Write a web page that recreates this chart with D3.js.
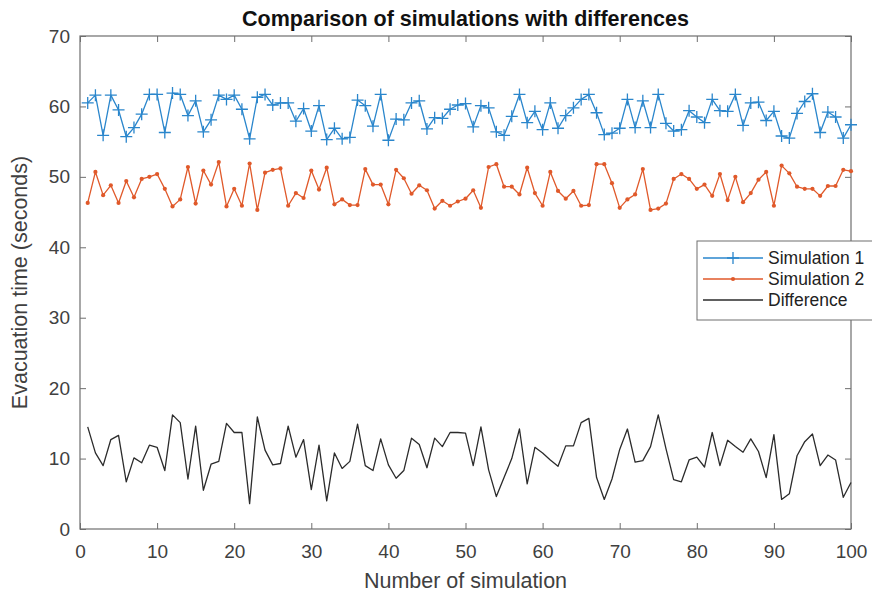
<!DOCTYPE html>
<html><head><meta charset="utf-8">
<script src="https://cdn.jsdelivr.net/npm/d3@7"></script>
<style>body{margin:0;background:#fff}svg{display:block}</style>
</head><body><svg id="c" width="872" height="594"></svg>
<script>
const simIndex = d3.range(1, 101);
const simulation1 = [60.5,61.6,55.9,61.6,59.5,55.7,57.0,58.9,61.7,61.7,56.3,61.9,61.7,58.7,60.8,56.4,58.1,61.6,61.0,61.6,
59.6,55.4,61.3,61.7,60.2,60.5,60.5,57.9,59.7,56.5,60.1,55.3,56.9,55.4,55.6,60.9,60.1,57.2,61.7,55.2,
58.2,58.1,60.5,60.8,56.8,58.4,58.3,59.6,60.2,60.4,57.1,60.1,59.8,56.4,55.9,58.6,61.7,57.7,59.3,56.7,
60.5,56.9,58.7,59.8,61.0,61.7,59.1,56.0,56.2,56.9,61.0,57.0,60.8,57.0,61.7,57.6,56.5,56.7,59.4,58.5,
57.7,61.0,59.4,59.3,61.7,57.3,60.5,60.6,58.0,59.3,55.8,55.5,59.0,60.7,61.8,56.3,59.2,58.5,55.5,57.4];
const simulation2 = [46.3,50.7,47.4,48.8,46.3,49.4,47.1,49.7,50.0,50.4,48.3,45.8,46.8,51.4,46.2,50.9,48.9,52.1,45.8,48.3,
45.9,51.9,45.3,50.6,51.0,51.2,45.9,47.7,47.0,50.9,48.2,51.3,46.1,46.8,46.0,46.0,51.1,48.9,48.9,46.1,
51.0,49.8,47.6,48.8,48.1,45.5,46.6,45.9,46.5,46.9,48.1,45.6,51.4,51.8,48.6,48.6,47.5,51.3,47.7,45.9,
50.7,48.0,46.9,48.0,45.9,46.0,51.8,51.8,49.1,45.6,46.8,47.5,51.1,45.3,45.5,46.2,49.7,50.4,49.7,48.3,
48.9,47.3,50.4,46.7,50.0,46.4,47.7,49.6,50.7,45.9,51.6,50.5,48.6,48.3,48.3,47.3,48.7,48.7,51.0,50.8];
const difference = [14.5,10.8,9.0,12.7,13.3,6.7,10.1,9.4,11.9,11.6,8.3,16.2,15.1,7.1,14.6,5.5,9.2,9.6,15.0,13.7,
13.7,3.6,15.9,11.2,9.1,9.3,14.6,10.2,12.7,5.6,11.9,4.0,10.8,8.6,9.6,14.9,9.0,8.3,12.8,9.1,
7.2,8.3,12.9,12.0,8.7,12.9,11.7,13.7,13.7,13.6,9.0,14.5,8.4,4.6,7.3,10.0,14.2,6.4,11.6,10.8,
9.8,8.9,11.8,11.8,15.1,15.7,7.3,4.2,7.1,11.3,14.2,9.5,9.7,11.7,16.2,11.4,7.0,6.7,9.8,10.2,
8.8,13.7,9.0,12.6,11.7,10.9,12.8,11.0,7.3,13.4,4.2,5.0,10.4,12.4,13.5,9.0,10.5,9.8,4.5,6.6];
const xTicks = [0,10,20,30,40,50,60,70,80,90,100];
const yTicks = [0,10,20,30,40,50,60,70];
const seriesNames = ["Simulation 1","Simulation 2","Difference"];
const seriesColors = ["#2a86cc","#e0592a","#2b2b2b"];

const svg = d3.select("#c");
const L=80, R=851, T=36, B=529;
const x = d3.scaleLinear().domain([0,100]).range([L,R]);
const y = d3.scaleLinear().domain([0,70]).range([B,T]);
const axisColor = "#6e6e6e", textColor = "#404040";
const font = "'Liberation Sans', Arial, sans-serif";

function styleAxis(g){
  g.select(".domain").remove();
  g.selectAll("line").attr("stroke",axisColor).attr("stroke-width",1);
  g.selectAll("text").attr("fill",textColor).style("font-family",font).style("font-size","19px");
}
svg.append("g").attr("transform",`translate(0,${B})`)
  .call(d3.axisBottom(x).tickValues(xTicks).tickSizeInner(-6).tickSizeOuter(0).tickPadding(16))
  .call(styleAxis);
svg.append("g").attr("transform",`translate(0,${T})`)
  .call(d3.axisTop(x).tickValues(xTicks).tickSizeInner(-6).tickSizeOuter(0).tickFormat(""))
  .call(styleAxis);
svg.append("g").attr("transform",`translate(${L},0)`)
  .call(d3.axisLeft(y).tickValues(yTicks).tickSizeInner(-6).tickSizeOuter(0).tickPadding(10))
  .call(styleAxis);
svg.append("g").attr("transform",`translate(${R},0)`)
  .call(d3.axisRight(y).tickValues(yTicks).tickSizeInner(-6).tickSizeOuter(0).tickFormat(""))
  .call(styleAxis);
svg.append("rect").attr("x",L).attr("y",T).attr("width",R-L).attr("height",B-T)
  .attr("fill","none").attr("stroke",axisColor).attr("stroke-width",1.2);

const line = d3.line().x((d,i)=>x(simIndex[i])).y(d=>y(d));
const data = [simulation1, simulation2, difference];
data.forEach((s,k)=>{
  svg.append("path").datum(s).attr("d",line).attr("fill","none")
    .attr("stroke",seriesColors[k]).attr("stroke-width",1.3).attr("stroke-linejoin","round");
});
const ms = 6;
svg.append("g").selectAll("path").data(simulation1).join("path")
  .attr("d",(d,i)=>`M${x(simIndex[i])-ms},${y(d)}h${2*ms}M${x(simIndex[i])},${y(d)-ms}v${2*ms}`)
  .attr("stroke",seriesColors[0]).attr("stroke-width",1.3);
svg.append("g").selectAll("circle").data(simulation2).join("circle")
  .attr("cx",(d,i)=>x(simIndex[i])).attr("cy",d=>y(d)).attr("r",2.1).attr("fill",seriesColors[1]);

svg.append("text").attr("x",(L+R)/2).attr("y",26).attr("text-anchor","middle")
  .style("font-family",font).style("font-size","21.5px").style("font-weight","bold").attr("fill","#111")
  .text("Comparison of simulations with differences");
svg.append("text").attr("x",(L+R)/2).attr("y",588).attr("text-anchor","middle")
  .style("font-family",font).style("font-size","21.5px").attr("fill",textColor)
  .text("Number of simulation");
svg.append("text").attr("transform",`translate(27,${(T+B)/2}) rotate(-90)`).attr("text-anchor","middle")
  .style("font-family",font).style("font-size","21.5px").attr("fill",textColor)
  .text("Evacuation time (seconds)");

const lg = svg.append("g");
lg.append("rect").attr("x",697).attr("y",241).attr("width",178).attr("height",79)
  .attr("fill","#fff").attr("stroke",axisColor).attr("stroke-width",1);
seriesNames.forEach((n,k)=>{
  const ly = 258 + k*21;
  lg.append("line").attr("x1",703).attr("x2",763).attr("y1",ly).attr("y2",ly)
    .attr("stroke",seriesColors[k]).attr("stroke-width",1.3);
  if(k===0) lg.append("path").attr("d",`M${733-ms},${ly}h${2*ms}M733,${ly-ms}v${2*ms}`).attr("stroke",seriesColors[0]).attr("stroke-width",1.3);
  if(k===1) lg.append("circle").attr("cx",733).attr("cy",ly).attr("r",2.1).attr("fill",seriesColors[1]);
  lg.append("text").attr("x",768).attr("y",ly+6).style("font-family",font).style("font-size","17.5px")
    .attr("fill","#222").text(n);
});
</script></body></html>
